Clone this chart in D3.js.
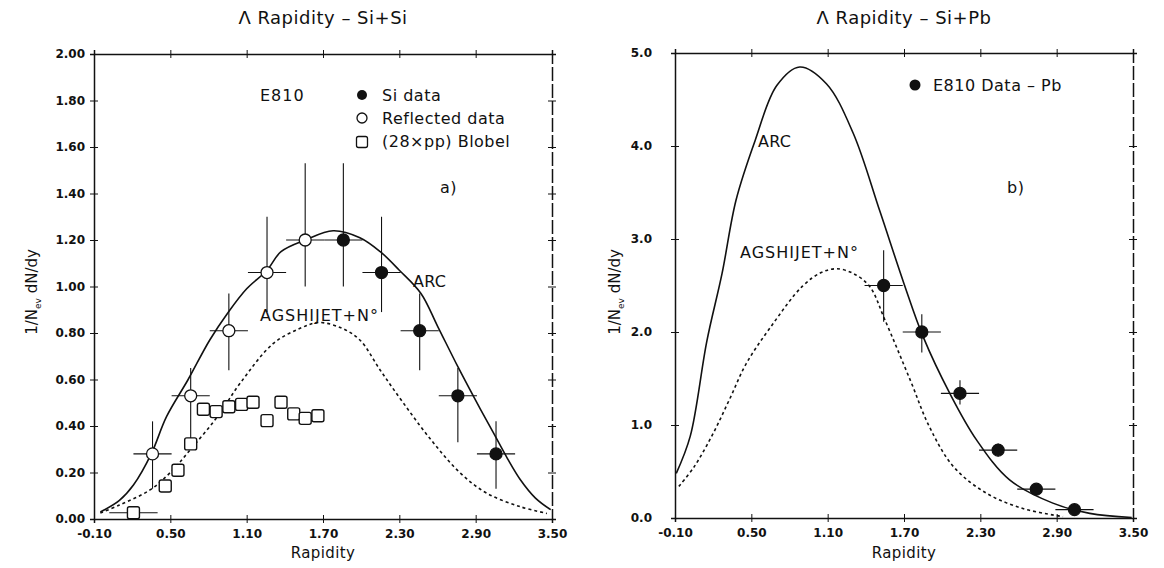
<!DOCTYPE html>
<html>
<head>
<meta charset="utf-8">
<script src="https://cdn.jsdelivr.net/npm/d3@7"></script>
<style>
  body { margin: 0; background: #fff; }
  svg { font-family: "DejaVu Sans", sans-serif; }
  .tick text { font-family: "DejaVu Sans", sans-serif; font-weight: bold; font-size: 12px; fill: #111; }
  .axis path, .axis line { stroke: #111; }
</style>
</head>
<body>
<div class="chart"></div>
<script>
// ---- data: Si+Si panel ----
const xTicks = [-0.10, 0.50, 1.10, 1.70, 2.30, 2.90, 3.50];
const siTicksY = [0, 0.2, 0.4, 0.6, 0.8, 1.0, 1.2, 1.4, 1.6, 1.8, 2.0];

const siDataX  = [1.86, 2.16, 2.46, 2.76, 3.06];
const siDataY  = [1.20, 1.06, 0.81, 0.53, 0.28];
const siDataLo = [1.00, 0.89, 0.64, 0.33, 0.13];
const siDataHi = [1.53, 1.30, 0.97, 0.65, 0.42];
const reflX    = [1.56, 1.26, 0.96, 0.66, 0.36];

const blobelX = [0.21, 0.46, 0.56, 0.66, 0.76, 0.86, 0.96, 1.06, 1.15, 1.26, 1.37, 1.47, 1.56, 1.66];
const blobelY = [0.027, 0.142, 0.21, 0.323, 0.472, 0.462, 0.483, 0.493, 0.502, 0.423, 0.502, 0.452, 0.433, 0.444];

const siArcX = [-0.05, 0.10, 0.21, 0.35, 0.47, 0.64, 0.81, 0.95, 1.10, 1.26, 1.37, 1.56, 1.78, 1.99, 2.15, 2.30, 2.47, 2.60, 2.76, 2.90, 3.04, 3.15, 3.25, 3.37, 3.49];
const siArcY = [0.03, 0.08, 0.146, 0.28, 0.44, 0.60, 0.77, 0.885, 0.99, 1.07, 1.15, 1.20, 1.24, 1.21, 1.15, 1.07, 0.97, 0.83, 0.655, 0.51, 0.37, 0.26, 0.17, 0.09, 0.04];

const siAgsX = [-0.05, 0.10, 0.34, 0.50, 0.66, 0.87, 1.05, 1.31, 1.52, 1.67, 1.85, 1.99, 2.15, 2.33, 2.55, 2.78, 2.99, 3.25, 3.46];
const siAgsY = [0.026, 0.06, 0.125, 0.20, 0.30, 0.44, 0.585, 0.755, 0.82, 0.845, 0.82, 0.77, 0.64, 0.50, 0.34, 0.197, 0.11, 0.053, 0.024];

// ---- data: Si+Pb panel ----
const pbTicksY = [0, 1, 2, 3, 4, 5];
const pbDataX  = [1.54, 1.84, 2.14, 2.44, 2.74, 3.04];
const pbDataY  = [2.50, 2.00, 1.34, 0.73, 0.31, 0.09];
const pbDataLo = [2.11, 1.78, 1.22, 0.66, 0.26, 0.05];
const pbDataHi = [2.88, 2.19, 1.48, 0.80, 0.36, 0.12];

const pbArcX = [-0.09, 0.02, 0.15, 0.27, 0.38, 0.53, 0.70, 0.88, 1.09, 1.30, 1.51, 1.70, 1.85, 2.06, 2.27, 2.53, 2.87, 3.16, 3.49];
const pbArcY = [0.48, 0.88, 1.90, 2.63, 3.42, 4.06, 4.65, 4.85, 4.67, 4.14, 3.30, 2.52, 1.95, 1.34, 0.84, 0.41, 0.16, 0.05, 0.005];

const pbAgsX = [-0.07, 0.05, 0.20, 0.33, 0.46, 0.65, 0.90, 1.05, 1.17, 1.30, 1.43, 1.55, 1.75, 1.90, 2.09, 2.35, 2.64, 2.95];
const pbAgsY = [0.34, 0.55, 0.91, 1.28, 1.66, 2.05, 2.49, 2.64, 2.68, 2.63, 2.49, 2.13, 1.48, 0.98, 0.55, 0.265, 0.10, 0.015];

const svg = d3.select(".chart").append("svg")
    .attr("width", 1164)
    .attr("height", 568);

function zip(xs, ys) { return xs.map((x, i) => [x, ys[i]]); }

function drawPanel(p) {
    const g = svg.append("g");
    const x = d3.scaleLinear().domain([-0.1, 3.5]).range(p.xRange);
    const y = d3.scaleLinear().domain(p.yDomain).range(p.yRange);

    // frame with cross ticks
    g.append("g").attr("class", "axis").attr("transform", `translate(0,${p.yRange[0]})`)
        .call(d3.axisBottom(x).tickValues(xTicks).tickSize(4).tickPadding(6).tickFormat(d3.format(".2f")))
        .call(a => a.selectAll("text").text(d => d3.format(".2f")(d).replace("−", "-")));
    g.append("g").attr("class", "axis").attr("transform", `translate(0,${p.yRange[0]})`)
        .call(d3.axisBottom(x).tickValues(xTicks).tickSize(-4).tickFormat(""))
        .call(a => a.select(".domain").remove());
    g.append("g").attr("class", "axis").attr("transform", `translate(0,${p.yRange[1]})`)
        .call(d3.axisTop(x).tickValues(xTicks).tickSize(4).tickFormat(""));
    g.append("g").attr("class", "axis").attr("transform", `translate(0,${p.yRange[1]})`)
        .call(d3.axisTop(x).tickValues(xTicks).tickSize(-4).tickFormat(""))
        .call(a => a.select(".domain").remove());

    g.append("g").attr("class", "axis").attr("transform", `translate(${p.xRange[0]},0)`)
        .call(d3.axisLeft(y).tickValues(p.yTicks).tickSize(4).tickPadding(p.yPad).tickFormat(d3.format(p.yFmt)));
    g.append("g").attr("class", "axis").attr("transform", `translate(${p.xRange[0]},0)`)
        .call(d3.axisLeft(y).tickValues(p.yTicks).tickSize(-4).tickFormat(""))
        .call(a => a.select(".domain").remove());
    g.append("g").attr("class", "axis").attr("transform", `translate(${p.xRange[1]},0)`)
        .call(d3.axisRight(y).tickValues(p.yTicks).tickSize(4).tickFormat(""))
        .call(a => a.select(".domain").attr("stroke-dasharray", "14,3"));
    g.append("g").attr("class", "axis").attr("transform", `translate(${p.xRange[1]},0)`)
        .call(d3.axisRight(y).tickValues(p.yTicks).tickSize(-4).tickFormat(""))
        .call(a => a.select(".domain").remove());
    g.selectAll(".axis path").attr("stroke-width", 1.5);

    const line = d3.line().x(d => x(d[0])).y(d => y(d[1])).curve(d3.curveCatmullRom);

    g.append("path").datum(p.arc).attr("d", line)
        .attr("fill", "none").attr("stroke", "#111").attr("stroke-width", 1.6);
    g.append("path").datum(p.ags).attr("d", line)
        .attr("fill", "none").attr("stroke", "#111").attr("stroke-width", 1.6)
        .attr("stroke-dasharray", "3,3");

    // error bars
    p.points.forEach(pt => {
        g.append("line").attr("x1", x(pt.x)).attr("x2", x(pt.x))
            .attr("y1", y(pt.lo)).attr("y2", y(pt.hi))
            .attr("stroke", "#111").attr("stroke-width", 1.1);
        g.append("line").attr("x1", x(pt.x - 0.15)).attr("x2", x(pt.x + 0.15))
            .attr("y1", y(pt.y)).attr("y2", y(pt.y))
            .attr("stroke", "#111").attr("stroke-width", 1.1);
    });
    g.selectAll(".pt").data(p.points).enter().append("circle")
        .attr("cx", d => x(d.x)).attr("cy", d => y(d.y)).attr("r", 6)
        .attr("fill", d => d.open ? "#fff" : "#111")
        .attr("stroke", "#111").attr("stroke-width", 1.3);

    // titles and labels
    const cx = (p.xRange[0] + p.xRange[1]) / 2;
    svg.append("text").attr("x", cx).attr("y", 24).attr("text-anchor", "middle")
        .attr("font-size", 18).attr("letter-spacing", 0.5).attr("fill", "#111").text(p.title);
    svg.append("text").attr("x", cx).attr("y", 558).attr("text-anchor", "middle")
        .attr("font-size", 15).attr("letter-spacing", 0.4).attr("fill", "#111").text("Rapidity");
    const yl = svg.append("text")
        .attr("transform", `translate(${p.yLabelX},292) rotate(-90)`)
        .attr("text-anchor", "middle").attr("font-size", 15).attr("fill", "#111");
    yl.append("tspan").text("1/N");
    yl.append("tspan").attr("font-size", 9).attr("dy", 4).text("ev");
    yl.append("tspan").attr("dy", -4).text(" dN/dy");

    return {g, x, y};
}

// ---- left panel ----
const left = drawPanel({
    xRange: [94, 552], yRange: [519, 54], yDomain: [0, 2],
    yTicks: siTicksY, yFmt: ".2f", yPad: 5, yLabelX: 37,
    title: "\u039B Rapidity \u2013 Si+Si",
    arc: zip(siArcX, siArcY), ags: zip(siAgsX, siAgsY),
    points: siDataX.map((v, i) => ({x: v, y: siDataY[i], lo: siDataLo[i], hi: siDataHi[i], open: false}))
        .concat(reflX.map((v, i) => ({x: v, y: siDataY[i], lo: siDataLo[i], hi: siDataHi[i], open: true})))
});

// Blobel squares
left.g.append("line").attr("x1", left.x(blobelX[0] - 0.19)).attr("x2", left.x(blobelX[0] + 0.19))
    .attr("y1", left.y(blobelY[0])).attr("y2", left.y(blobelY[0]))
    .attr("stroke", "#111").attr("stroke-width", 1.1);
left.g.selectAll(".sq").data(zip(blobelX, blobelY)).enter().append("rect")
    .attr("x", d => left.x(d[0]) - 6).attr("y", d => left.y(d[1]) - 6)
    .attr("width", 12).attr("height", 12).attr("rx", 2)
    .attr("fill", "#fff").attr("stroke", "#111").attr("stroke-width", 1.4);

const txt = (x, y, s, t, ls) => svg.append("text").attr("x", x).attr("y", y)
    .attr("font-size", s).attr("letter-spacing", ls || 0).attr("fill", "#111").text(t);

txt(260, 101, 16, "E810", 1);
svg.append("circle").attr("cx", 362).attr("cy", 95).attr("r", 5).attr("fill", "#111");
svg.append("circle").attr("cx", 362).attr("cy", 118).attr("r", 5).attr("fill", "#fff").attr("stroke", "#111").attr("stroke-width", 1.3);
svg.append("rect").attr("x", 356.5).attr("y", 136.5).attr("width", 11).attr("height", 11).attr("rx", 2)
    .attr("fill", "#fff").attr("stroke", "#111").attr("stroke-width", 1.3);
txt(382, 101, 16, "Si data", 0.5);
txt(382, 124, 16, "Reflected data", 0.5);
txt(382, 147, 16, "(28\u00D7pp) Blobel", 0.5);
txt(440, 193, 16, "a)", 0.5);
txt(413, 287, 16, "ARC", 0.3);
txt(260, 321, 16, "AGSHIJET+N\u00B0", 1);

// ---- right panel ----
drawPanel({
    xRange: [675, 1133], yRange: [518, 53], yDomain: [0, 5],
    yTicks: pbTicksY, yFmt: ".1f", yPad: 19, yLabelX: 620,
    title: "\u039B Rapidity \u2013 Si+Pb",
    arc: zip(pbArcX, pbArcY), ags: zip(pbAgsX, pbAgsY),
    points: pbDataX.map((v, i) => ({x: v, y: pbDataY[i], lo: pbDataLo[i], hi: pbDataHi[i], open: false}))
});

svg.append("circle").attr("cx", 915).attr("cy", 85).attr("r", 5.5).attr("fill", "#111");
txt(933, 91, 16, "E810 Data \u2013 Pb", 0.5);
txt(1007, 193, 16, "b)", 0.5);
txt(758, 147, 16, "ARC", 0.3);
txt(740, 258, 16, "AGSHIJET+N\u00B0", 1);
</script>
</body>
</html>
